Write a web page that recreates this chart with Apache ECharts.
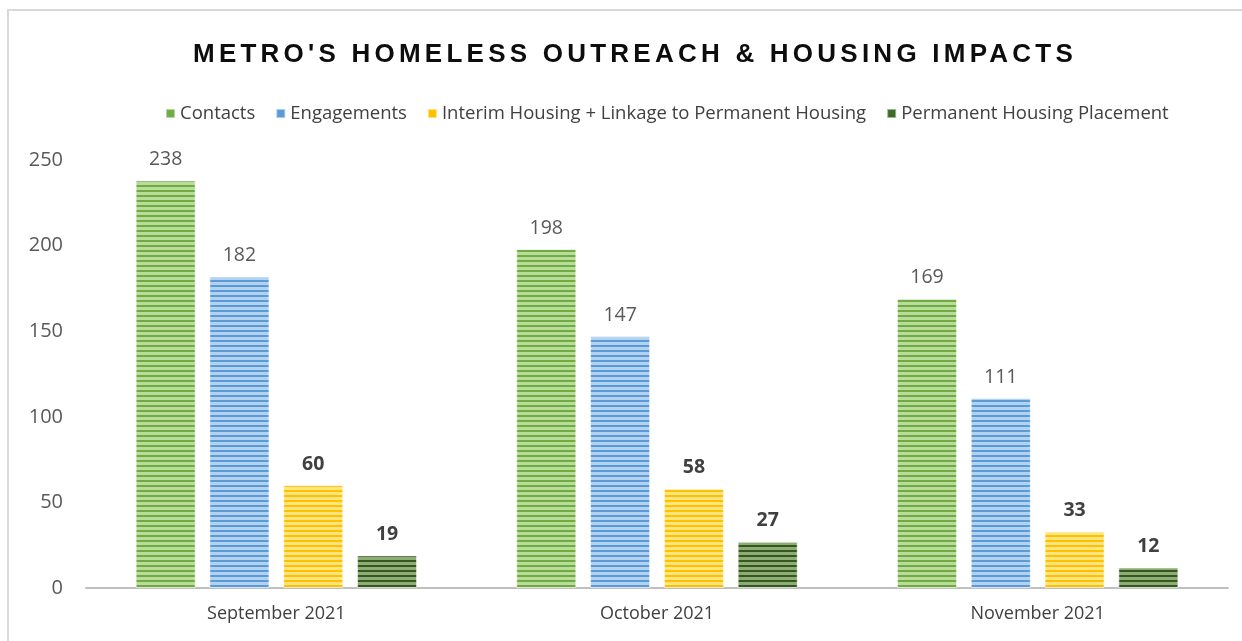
<!DOCTYPE html>
<html>
<head>
<meta charset="utf-8">
<script src="https://cdn.jsdelivr.net/npm/echarts@6/dist/echarts.min.js"></script>
<style>html,body{margin:0;padding:0;background:#fff}#c{width:1242px;height:641px}</style>
</head>
<body>
<div id="c"></div>
<script>
const TITLE = "METRO'S HOMELESS OUTREACH & HOUSING IMPACTS";
const categories = ['September 2021', 'October 2021', 'November 2021'];
const contacts = [238, 198, 169];
const engagements = [182, 147, 111];
const interim = [60, 58, 33];
const permanent = [19, 27, 12];
const seriesNames = ['Contacts', 'Engagements', 'Interim Housing + Linkage to Permanent Housing', 'Permanent Housing Placement'];
const yTicks = { min: 0, max: 250, interval: 50 };

// letter spacing for title to emulate the reference's tracked title
const TITLE_FONT = 'bold 26px "Liberation Sans"';
const TARGET_W = 884;
(function () {
  const c = document.createElement('canvas').getContext('2d');
  c.font = TITLE_FONT;
  const w = c.measureText(TITLE).width;
  const sp = Math.max(0, (TARGET_W - w) / (TITLE.length));
  const proto = CanvasRenderingContext2D.prototype;
  const of = proto.fillText, om = proto.measureText;
  proto.fillText = function (t, ...a) {
    if (t === TITLE) { const p = this.letterSpacing; this.letterSpacing = sp + 'px'; const r = of.call(this, t, ...a); this.letterSpacing = p; return r; }
    return of.call(this, t, ...a);
  };
  proto.measureText = function (t) {
    if (t === TITLE) { const p = this.letterSpacing; this.letterSpacing = sp + 'px'; const r = om.call(this, t); this.letterSpacing = p; return r; }
    return om.call(this, t);
  };
})();

function stripes(dark, light) {
  const cv = document.createElement('canvas');
  cv.width = 4; cv.height = 5;
  const g = cv.getContext('2d');
  g.fillStyle = light; g.fillRect(0, 0, 4, 5);
  g.fillStyle = dark; g.fillRect(0, 0, 4, 2);
  return { image: cv, repeat: 'repeat' };
}

const solid = ['#70AD47', '#5B9BD5', '#FFC000', '#3B6A26'];
const pats = [
  stripes('#6FAA45', '#B9DC98'),
  stripes('#5A9AD6', '#B3D2EF'),
  stripes('#FFC000', '#FFE57F'),
  stripes('#375623', '#8DAE72')
];
const dataSets = [contacts, engagements, interim, permanent];
const FONT = '"Open Sans", "Liberation Sans", sans-serif';

const chart = echarts.init(document.getElementById('c'), null, { renderer: 'canvas' });
chart.setOption({
  animation: false,
  backgroundColor: '#fff',
  graphic: [{
    type: 'rect', silent: true,
    shape: { x: 8, y: 10, width: 1400, height: 800 },
    style: { fill: 'none', stroke: '#d9d9d9', lineWidth: 2 }
  }],
  title: {
    text: TITLE, left: 188, top: 37,
    textStyle: { fontFamily: '"Liberation Sans"', fontWeight: 'bold', fontSize: 26, color: '#0d0d0d' }
  },
  legend: {
    top: 99, left: 160, itemWidth: 9, itemHeight: 9, itemGap: 20, icon: 'rect',
    textStyle: { fontFamily: FONT, fontSize: 18.5, color: '#404040' },
    data: seriesNames.map((n, i) => ({ name: n, itemStyle: { color: solid[i] } }))
  },
  grid: { left: 86, right: 14, top: 160, bottom: 53, containLabel: false },
  xAxis: {
    type: 'category', data: categories,
    axisLine: { lineStyle: { color: '#bfbfbf', width: 2 } },
    axisTick: { show: false },
    axisLabel: { fontFamily: FONT, fontSize: 18, color: '#404040', margin: 17 }
  },
  yAxis: {
    type: 'value', min: yTicks.min, max: yTicks.max, interval: yTicks.interval,
    axisLine: { show: false }, axisTick: { show: false }, splitLine: { show: false },
    axisLabel: { fontFamily: FONT, fontSize: 20, color: '#595959', margin: 23 }
  },
  series: dataSets.map((d, i) => ({
    name: seriesNames[i], type: 'bar', data: d,
    barWidth: 60, barGap: '23%', barCategoryGap: '26%',
    itemStyle: { color: pats[i], borderColor: 'rgba(255,255,255,0.5)', borderWidth: 1 },
    label: {
      show: true, position: 'top', distance: 11,
      fontFamily: FONT, fontSize: 19.5,
      fontWeight: i >= 2 ? 'bold' : 'normal',
      color: i >= 2 ? '#404040' : '#595959'
    }
  }))
});
</script>
</body>
</html>
